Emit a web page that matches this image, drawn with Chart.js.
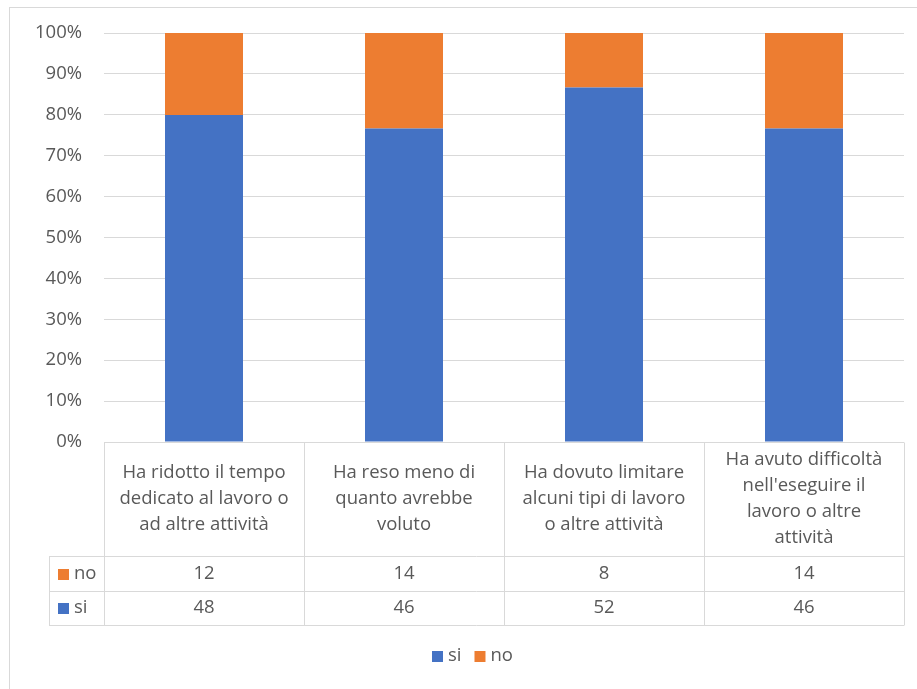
<!DOCTYPE html>
<html>
<head>
<meta charset="utf-8">
<script src="https://cdn.jsdelivr.net/npm/chart.js@4/dist/chart.umd.min.js"></script>
<style>
  html, body { margin: 0; padding: 0; background: #ffffff; }
  #wrap { width: 917px; height: 689px; position: relative; }
</style>
</head>
<body>
<div id="wrap"><canvas id="c" width="917" height="689"></canvas></div>
<script>
// Category labels, already broken into the lines shown in the table header
const categories = [
  ['Ha ridotto il tempo', 'dedicato al lavoro o', 'ad altre attività'],
  ['Ha reso meno di', 'quanto avrebbe', 'voluto'],
  ['Ha dovuto limitare', 'alcuni tipi di lavoro', 'o altre attività'],
  ['Ha avuto difficoltà', "nell'eseguire il", 'lavoro o altre', 'attività']
];
const seriesNames = ['si', 'no'];
const siCounts = [48, 46, 52, 46];
const noCounts = [12, 14, 8, 14];
const yTickStep = 10;
const yMax = 100;

const COLORS = { si: '#4472C4', no: '#ED7D31' };
const TEXT = '#595959';
const LINE = '#D9D9D9';
const FONT_FAMILY = '"Open Sans", "Liberation Sans", sans-serif';
const FONT_SIZE = 18.5;

// 100% stacked: each column is shown as its share of the column total
const share = (arr) => arr.map((v, i) => v / (siCounts[i] + noCounts[i]) * 100);
const siShare = share(siCounts);
const noShare = share(noCounts);

const px = (v) => Math.round(v) + 0.5;

const tablePlugin = {
  id: 'dataTable',
  beforeDraw(chart) {
    const ctx = chart.ctx;
    ctx.save();
    ctx.fillStyle = '#ffffff';
    ctx.fillRect(0, 0, chart.width, chart.height);
    ctx.strokeStyle = LINE;
    ctx.lineWidth = 1;
    ctx.strokeRect(9.5, 7.5, 2000, 2000);
    ctx.restore();
  },
  afterDraw(chart) {
    const { ctx, chartArea: a, scales: { x } } = chart;
    const n = categories.length;
    const half = (x.getPixelForValue(1) - x.getPixelForValue(0)) / 2;
    const top = a.bottom;
    const headBottom = top + 114;
    const rowNo = headBottom + 35;
    const rowSi = rowNo + 34;
    const keyLeft = 49;

    ctx.save();
    ctx.strokeStyle = LINE;
    ctx.lineWidth = 1;
    ctx.beginPath();
    // horizontal rules
    ctx.moveTo(a.left, px(top)); ctx.lineTo(a.right, px(top));
    [headBottom, rowNo, rowSi].forEach((y) => {
      ctx.moveTo(keyLeft, px(y)); ctx.lineTo(a.right, px(y));
    });
    // vertical rules
    ctx.moveTo(px(keyLeft), px(headBottom)); ctx.lineTo(px(keyLeft), px(rowSi));
    for (let i = 0; i <= n; i++) {
      const xx = i < n ? x.getPixelForValue(i) - half : x.getPixelForValue(n - 1) + half;
      ctx.moveTo(px(xx), px(top)); ctx.lineTo(px(xx), px(rowSi));
    }
    ctx.stroke();

    ctx.fillStyle = TEXT;
    ctx.font = FONT_SIZE + 'px ' + FONT_FAMILY;
    ctx.textAlign = 'center';
    ctx.textBaseline = 'middle';
    const lh = 26;
    const headMid = (top + headBottom) / 2;
    categories.forEach((lines, i) => {
      const cx = x.getPixelForValue(i);
      const y0 = headMid - (lines.length - 1) * lh / 2;
      lines.forEach((t, k) => ctx.fillText(t, cx, y0 + k * lh));
      ctx.fillText(String(noCounts[i]), cx, (headBottom + rowNo) / 2);
      ctx.fillText(String(siCounts[i]), cx, (rowNo + rowSi) / 2);
    });

    // row keys
    ctx.textAlign = 'left';
    const keys = [['no', (headBottom + rowNo) / 2], ['si', (rowNo + rowSi) / 2]];
    keys.forEach(([name, y]) => {
      ctx.fillStyle = COLORS[name];
      ctx.fillRect(58, Math.round(y - 5), 11, 11);
      ctx.fillStyle = TEXT;
      ctx.fillText(name, 74, y);
    });

    // legend
    const ly = 656;
    let lx = 432;
    seriesNames.forEach((name) => {
      ctx.fillStyle = COLORS[name];
      ctx.fillRect(lx, ly - 5, 11, 11);
      ctx.fillStyle = TEXT;
      ctx.fillText(name, lx + 16, ly);
      lx += 16 + ctx.measureText(name).width + 13;
    });
    ctx.restore();
  }
};

new Chart(document.getElementById('c'), {
  type: 'bar',
  data: {
    labels: categories,
    datasets: [
      { label: 'si', data: siShare, backgroundColor: COLORS.si, barPercentage: 0.39, categoryPercentage: 1 },
      { label: 'no', data: noShare, backgroundColor: COLORS.no, barPercentage: 0.39, categoryPercentage: 1 }
    ]
  },
  options: {
    responsive: false,
    animation: false,
    layout: { padding: { top: 33, right: 13, left: 0, bottom: 0 } },
    plugins: { legend: { display: false }, tooltip: { enabled: false } },
    scales: {
      x: {
        stacked: true,
        grid: { display: false },
        border: { display: false },
        ticks: { display: false },
        afterFit: (s) => { s.height = 247; }
      },
      y: {
        stacked: true,
        min: 0,
        max: yMax,
        afterFit: (s) => { s.width = 104; },
        ticks: {
          stepSize: yTickStep,
          padding: 22,
          color: TEXT,
          font: { family: FONT_FAMILY, size: FONT_SIZE },
          callback: (v) => v + '%'
        },
        grid: { color: LINE, drawTicks: false },
        border: { display: false }
      }
    }
  },
  plugins: [tablePlugin]
});
</script>
</body>
</html>
